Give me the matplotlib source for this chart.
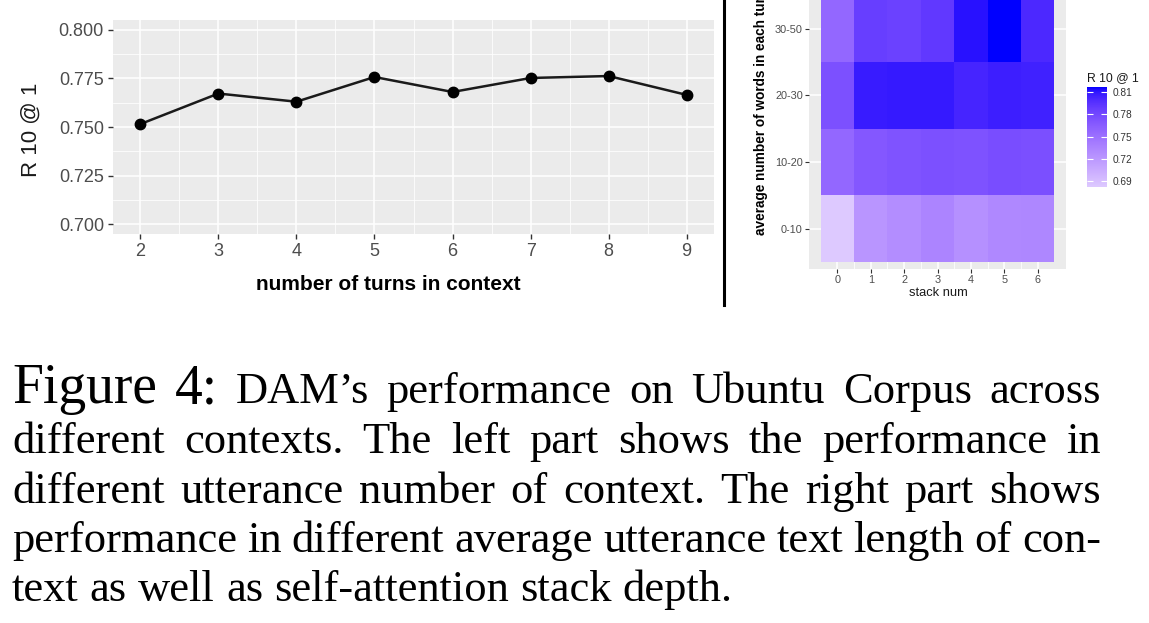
import numpy as np
import matplotlib
matplotlib.use("Agg")
import matplotlib.pyplot as plt
from matplotlib.colors import ListedColormap, Normalize, to_rgb
from matplotlib.lines import Line2D

# ---------------- data ----------------
turns = [2, 3, 4, 5, 6, 7, 8, 9]
r10_at_1 = [0.7515, 0.7672, 0.7630, 0.7757, 0.7680, 0.7752, 0.7762, 0.7665]
y_ticks = [0.700, 0.725, 0.750, 0.775, 0.800]

stack_nums = [0, 1, 2, 3, 4, 5, 6]
word_bins = ["0-10", "10-20", "20-30", "30-50"]
heat_0_10 = [0.682, 0.722, 0.728, 0.735, 0.726, 0.732, 0.733]
heat_10_20 = [0.757, 0.769, 0.772, 0.774, 0.773, 0.776, 0.775]
heat_20_30 = [0.774, 0.808, 0.809, 0.809, 0.803, 0.806, 0.805]
heat_30_50 = [0.757, 0.787, 0.785, 0.791, 0.812, 0.817, 0.801]
cbar_ticks = [0.69, 0.72, 0.75, 0.78, 0.81]

caption_lines = [
    ["Figure", "4:", "DAM\u2019s", "performance", "on", "Ubuntu", "Corpus", "across"],
    ["different", "contexts.", "The", "left", "part", "shows", "the", "performance", "in"],
    ["different", "utterance", "number", "of", "context.", "The", "right", "part", "shows"],
    ["performance", "in", "different", "average", "utterance", "text", "length", "of", "con-"],
    ["text", "as", "well", "as", "self-attention", "stack", "depth."],
]

# ---------------- figure ----------------
W, H = 1149, 623
fig = plt.figure(figsize=(W / 100, H / 100), dpi=100)
fig.patch.set_facecolor("white")
plt.rcParams["font.family"] = ["Liberation Sans", "DejaVu Sans"]


def px_axes(x0, y0, x1, y1):
    return fig.add_axes([x0 / W, 1 - y1 / H, (x1 - x0) / W, (y1 - y0) / H])


def gg_style(ax):
    ax.set_facecolor("#EBEBEB")
    for s in ax.spines.values():
        s.set_visible(False)
    ax.set_axisbelow(True)
    ax.grid(which="major", color="white", lw=1.1)
    ax.grid(which="minor", color="white", lw=0.55)


# ---------- left: line chart ----------
ax1 = px_axes(113, 20, 714, 234)
gg_style(ax1)
ax1.plot(turns, r10_at_1, color="#1A1A1A", lw=1.8, marker="o", ms=7.5,
         markerfacecolor="black", markeredgecolor="black", zorder=3)
ax1.set_xlim(1.65, 9.35)
ax1.set_ylim(0.695, 0.805)
ax1.set_xticks(turns)
ax1.set_yticks(y_ticks)
ax1.set_yticklabels([f"{v:.3f}" for v in y_ticks])
ax1.set_xticks([t + 0.5 for t in turns[:-1]], minor=True)
ax1.set_yticks([0.7125, 0.7375, 0.7625, 0.7875], minor=True)
ax1.tick_params(which="major", length=3.5, width=1, color="#333333",
                labelcolor="#4D4D4D", labelsize=13, pad=3)
ax1.tick_params(which="minor", length=0)
fig.text(31 / W, 1 - 130 / H, "R 10 @ 1", rotation=90, ha="center", va="center",
         fontsize=16, color="#1A1A1A")
fig.text(388 / W, 1 - 285 / H, "number of turns in context", ha="center", va="center",
         fontsize=15, fontweight="bold", color="black")

# ---------- divider ----------
fig.add_artist(Line2D([724 / W, 724 / W], [1.0, 1 - 305 / H], color="black", lw=2.2))


# ---------- right: heatmap ----------
def srgb_to_lab(c):
    c = np.asarray(c, float)
    lin = np.where(c <= 0.04045, c / 12.92, ((c + 0.055) / 1.055) ** 2.4)
    M = np.array([[0.4124, 0.3576, 0.1805], [0.2126, 0.7152, 0.0722], [0.0193, 0.1192, 0.9505]])
    xyz = M @ lin / np.array([0.95047, 1.0, 1.08883])
    f = np.where(xyz > 0.008856, np.cbrt(xyz), 7.787 * xyz + 16 / 116)
    return np.array([116 * f[1] - 16, 500 * (f[0] - f[1]), 200 * (f[1] - f[2])])


def lab_to_srgb(lab):
    L, a, b = lab
    fy = (L + 16) / 116
    fx = fy + a / 500
    fz = fy - b / 200
    f = np.array([fx, fy, fz])
    xyz = np.where(f ** 3 > 0.008856, f ** 3, (f - 16 / 116) / 7.787) * np.array([0.95047, 1.0, 1.08883])
    Minv = np.array([[3.2406, -1.5372, -0.4986], [-0.9689, 1.8758, 0.0415], [0.0557, -0.2040, 1.0570]])
    lin = Minv @ xyz
    lin = np.clip(lin, 0, 1)
    c = np.where(lin <= 0.0031308, 12.92 * lin, 1.055 * lin ** (1 / 2.4) - 0.055)
    return np.clip(c, 0, 1)


low_lab = srgb_to_lab(to_rgb("#DDC9FF"))
high_lab = srgb_to_lab(to_rgb("#0000FF"))
cols = [lab_to_srgb(low_lab + (high_lab - low_lab) * t) for t in np.linspace(0, 1, 256)]
cmap = ListedColormap(cols)

heat = np.array([heat_0_10, heat_10_20, heat_20_30, heat_30_50])
norm = Normalize(vmin=heat.min(), vmax=heat.max())

ax2 = px_axes(809, -64.5, 1066, 268.8)
gg_style(ax2)
xe = np.arange(len(stack_nums) + 1) - 0.5
ye = np.arange(len(word_bins) + 1) - 0.5
mesh = ax2.pcolormesh(xe, ye, heat, cmap=cmap, norm=norm, zorder=2)
ax2.set_xlim(-0.85, 6.85)
ax2.set_ylim(-0.6, 4.4)
ax2.set_xticks(stack_nums)
ax2.set_xticks([s + 0.5 for s in stack_nums[:-1]], minor=True)
ax2.set_yticks(range(len(word_bins)))
ax2.set_yticklabels(word_bins)
ax2.tick_params(which="major", length=3, width=0.8, color="#333333",
                labelcolor="#4D4D4D", labelsize=7.8, pad=1.5)
ax2.tick_params(which="minor", length=0)
ax2.grid(which="minor", axis="y", visible=False)
fig.text(938 / W, 1 - 293 / H, "stack num", ha="center", va="center", fontsize=9.3,
         color="#1A1A1A")
fig.text(761 / W, 1 - 235 / H, "average number of words in each turn", rotation=90,
         ha="center", va="bottom", fontsize=9.8, fontweight="bold", color="black")

# colorbar
cax = px_axes(1087, 87, 1107, 187)
cb = fig.colorbar(mesh, cax=cax)
cb.outline.set_visible(False)
cb.set_ticks(cbar_ticks)
cb.set_ticklabels([f"{v:.2f}" for v in cbar_ticks])
cax.tick_params(axis="y", which="major", direction="in", length=4, width=0.8, color="white",
                left=True, right=True, labelsize=7.3, labelcolor="#333333", pad=4)
fig.text(1087 / W, 1 - 78 / H, "R 10 @ 1", ha="left", va="center", fontsize=8.8,
         color="#1A1A1A")

# ---------- caption (justified) ----------
renderer = fig.canvas.get_renderer()
serif = ["Liberation Serif", "DejaVu Serif"]
base_size = 32
big_size = 40
baselines = [403, 453, 503, 552, 601]
x_left, x_right = 12, 1101

for li, words in enumerate(caption_lines):
    texts = []
    for wi, w in enumerate(words):
        size = big_size if (li == 0 and wi < 2) else base_size
        t = fig.text(0, 1 - baselines[li] / H, w, ha="left", va="baseline",
                     fontsize=size, family=serif, color="black")
        texts.append(t)
    widths = [t.get_window_extent(renderer).width for t in texts]
    if li < len(caption_lines) - 1:
        gap = (x_right - x_left - sum(widths)) / (len(words) - 1)
    else:
        gap = base_size * 100 / 72 * 0.25
    x = x_left
    for t, wdt in zip(texts, widths):
        t.set_x(x / W)
        x += wdt + gap

fig.savefig("out.png", dpi=100)
